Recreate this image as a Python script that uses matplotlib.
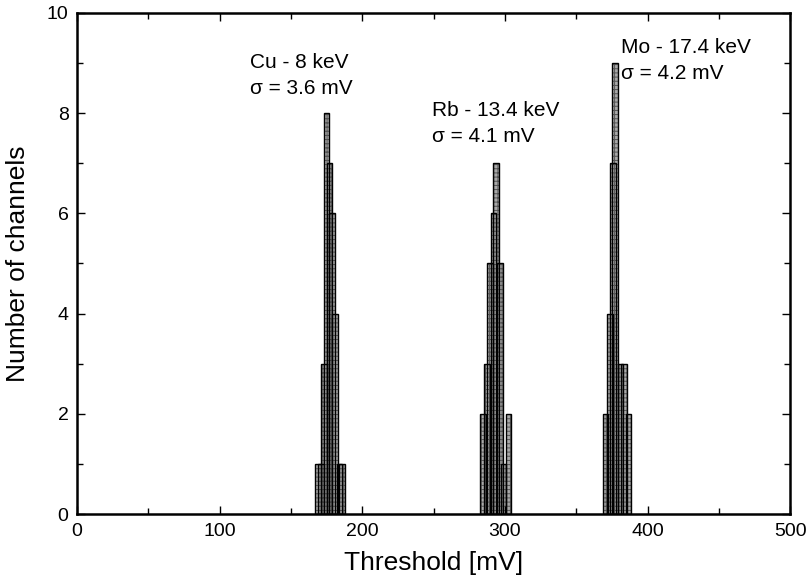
import matplotlib.pyplot as plt
from matplotlib.ticker import MultipleLocator

plt.rcParams['font.family'] = ['Liberation Sans', 'DejaVu Sans']
plt.rcParams['hatch.linewidth'] = 0.7

# bin centres (mV) and counts
cu_threshold = [169, 171, 173, 175, 177, 179, 181, 184, 186]
cu_counts = [1, 1, 3, 8, 7, 6, 4, 1, 1]
rb_threshold = [284.5, 287.5, 289.5, 292, 293.5, 296.5, 299, 302.5]
rb_counts = [2, 3, 5, 6, 7, 5, 1, 2]
mo_threshold = [370.5, 373.5, 375.5, 377, 381, 383.5, 386.5]
mo_counts = [2, 4, 7, 9, 3, 3, 2]

labels = ['Cu - 8 keV\nσ = 3.6 mV',
          'Rb - 13.4 keV\nσ = 4.1 mV',
          'Mo - 17.4 keV\nσ = 4.2 mV']
label_pos = [(121, 9.2), (249, 8.25), (381, 9.5)]

fig = plt.figure(figsize=(8.09, 5.81), dpi=100)
ax = fig.add_axes([0.095, 0.115, 0.882, 0.863])

xs = cu_threshold + rb_threshold + mo_threshold
ys = cu_counts + rb_counts + mo_counts
w = 4.0
# fill first, then all outlines so the overlapping edges stay visible
ax.bar(xs, ys, width=w, color='#a9a9a9', edgecolor='#555555', hatch='++++', linewidth=0)
ax.bar(xs, ys, width=w, fill=False, edgecolor='black', linewidth=1.0)

for txt, (tx, ty) in zip(labels, label_pos):
    ax.text(tx, ty, txt, fontsize=15, va='top', ha='left', linespacing=1.5)

ax.set_xlim(0, 500)
ax.set_ylim(0, 10)
ax.xaxis.set_major_locator(MultipleLocator(100))
ax.xaxis.set_minor_locator(MultipleLocator(50))
ax.yaxis.set_major_locator(MultipleLocator(2))
ax.yaxis.set_minor_locator(MultipleLocator(1))
ax.tick_params(which='both', direction='in', top=True, right=True, labelsize=14, pad=6)
ax.tick_params(which='major', length=6, width=1)
ax.tick_params(which='minor', length=4, width=1)
for s in ax.spines.values():
    s.set_linewidth(1.8)

ax.set_xlabel('Threshold [mV]', fontsize=19, labelpad=8)
ax.set_ylabel('Number of channels', fontsize=19, labelpad=12)

fig.savefig('out.png', dpi=100)
